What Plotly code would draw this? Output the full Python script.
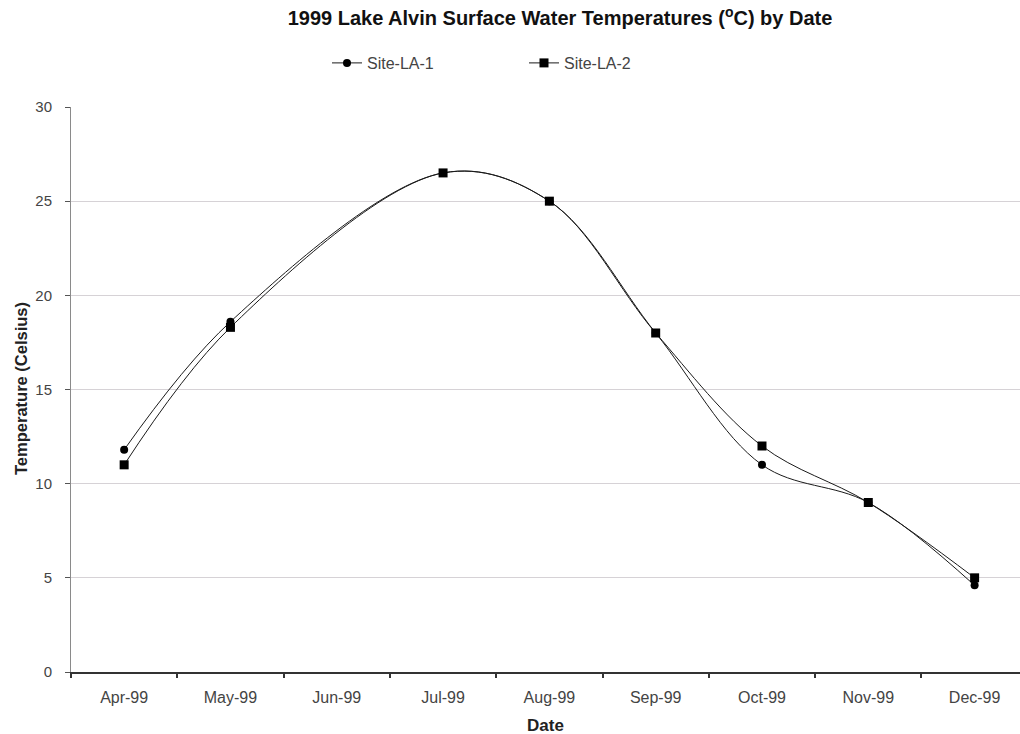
import plotly.graph_objects as go

# Month categories along the date axis
months = ["Apr-99", "May-99", "Jun-99", "Jul-99", "Aug-99",
          "Sep-99", "Oct-99", "Nov-99", "Dec-99"]

# Sampling dates (no June sample) and surface temperatures in Celsius
sample_months = ["Apr-99", "May-99", "Jul-99", "Aug-99",
                 "Sep-99", "Oct-99", "Nov-99", "Dec-99"]
site_la1 = [11.8, 18.6, 26.5, 25.0, 18.0, 11.0, 9.0, 4.6]
site_la2 = [11.0, 18.3, 26.5, 25.0, 18.0, 12.0, 9.0, 5.0]

y_ticks = [0, 5, 10, 15, 20, 25, 30]

FONT = "Liberation Sans, Arial, sans-serif"

# plot area in pixels
L, R, T, B = 71, 1020, 107, 672
W, H = R - L, B - T


def px_x(px):
    return (px - L) / W


def px_y(py):
    return (B - py) / H


fig = go.Figure()
fig.add_trace(go.Scatter(
    x=sample_months, y=site_la1, name="Site-LA-1",
    mode="lines+markers",
    line=dict(color="#1a1a1a", width=1, shape="spline", smoothing=1),
    marker=dict(symbol="circle", size=8, color="#000000"),
))
fig.add_trace(go.Scatter(
    x=sample_months, y=site_la2, name="Site-LA-2",
    mode="lines+markers",
    line=dict(color="#1a1a1a", width=1, shape="spline", smoothing=1),
    marker=dict(symbol="square", size=9, color="#000000"),
))

fig.update_layout(
    width=1020, height=734,
    margin=dict(l=L, r=1020 - R, t=T, b=734 - B),
    paper_bgcolor="white", plot_bgcolor="white",
    font=dict(family=FONT, color="#333333", size=12),
    title=dict(
        text="<b>1999 Lake Alvin Surface Water Temperatures (<sup>o</sup>C) by Date</b>",
        x=560 / 1020, xanchor="center", xref="container",
        y=1 - 18 / 734, yanchor="middle", yref="container",
        font=dict(size=20, color="#111111"),
    ),
    showlegend=True,
    legend=dict(
        orientation="h", xref="container", yref="container",
        x=327 / 1020, xanchor="left", y=1 - 63 / 734, yanchor="middle",
        font=dict(size=16, color="#444444"),
        entrywidth=152, tracegroupgap=0,
        bgcolor="rgba(0,0,0,0)",
    ),
    xaxis=dict(
        type="category", categoryorder="array", categoryarray=months,
        range=[-0.5, 8.427],
        tickson="boundaries", ticks="outside", ticklen=4,
        tickcolor="#333333", tickwidth=1.5,
        showline=True, linecolor="#333333", linewidth=2,
        showgrid=False, zeroline=False,
        ticklabelstandoff=10,
        tickfont=dict(size=16, color="#444444"),
    ),
    yaxis=dict(
        range=[0, 30], tickvals=y_ticks,
        ticks="outside", ticklen=5, tickcolor="#555555",
        showline=True, linecolor="#8a8a8a", linewidth=1,
        showgrid=True, gridcolor="#d6d2d6", gridwidth=1,
        zeroline=False,
        ticklabelstandoff=10,
        tickfont=dict(size=15, color="#444444"),
    ),
    annotations=[
        dict(text="<b>Date</b>", x=px_x(545), y=px_y(725),
             xref="paper", yref="paper", showarrow=False,
             xanchor="center", yanchor="middle",
             font=dict(size=17, color="#222222")),
        dict(text="<b>Temperature (Celsius)</b>", x=px_x(21), y=px_y(389),
             xref="paper", yref="paper", showarrow=False,
             textangle=-90, xanchor="center", yanchor="middle",
             font=dict(size=16.5, color="#222222")),
    ],
)

fig.write_html("out.html")
